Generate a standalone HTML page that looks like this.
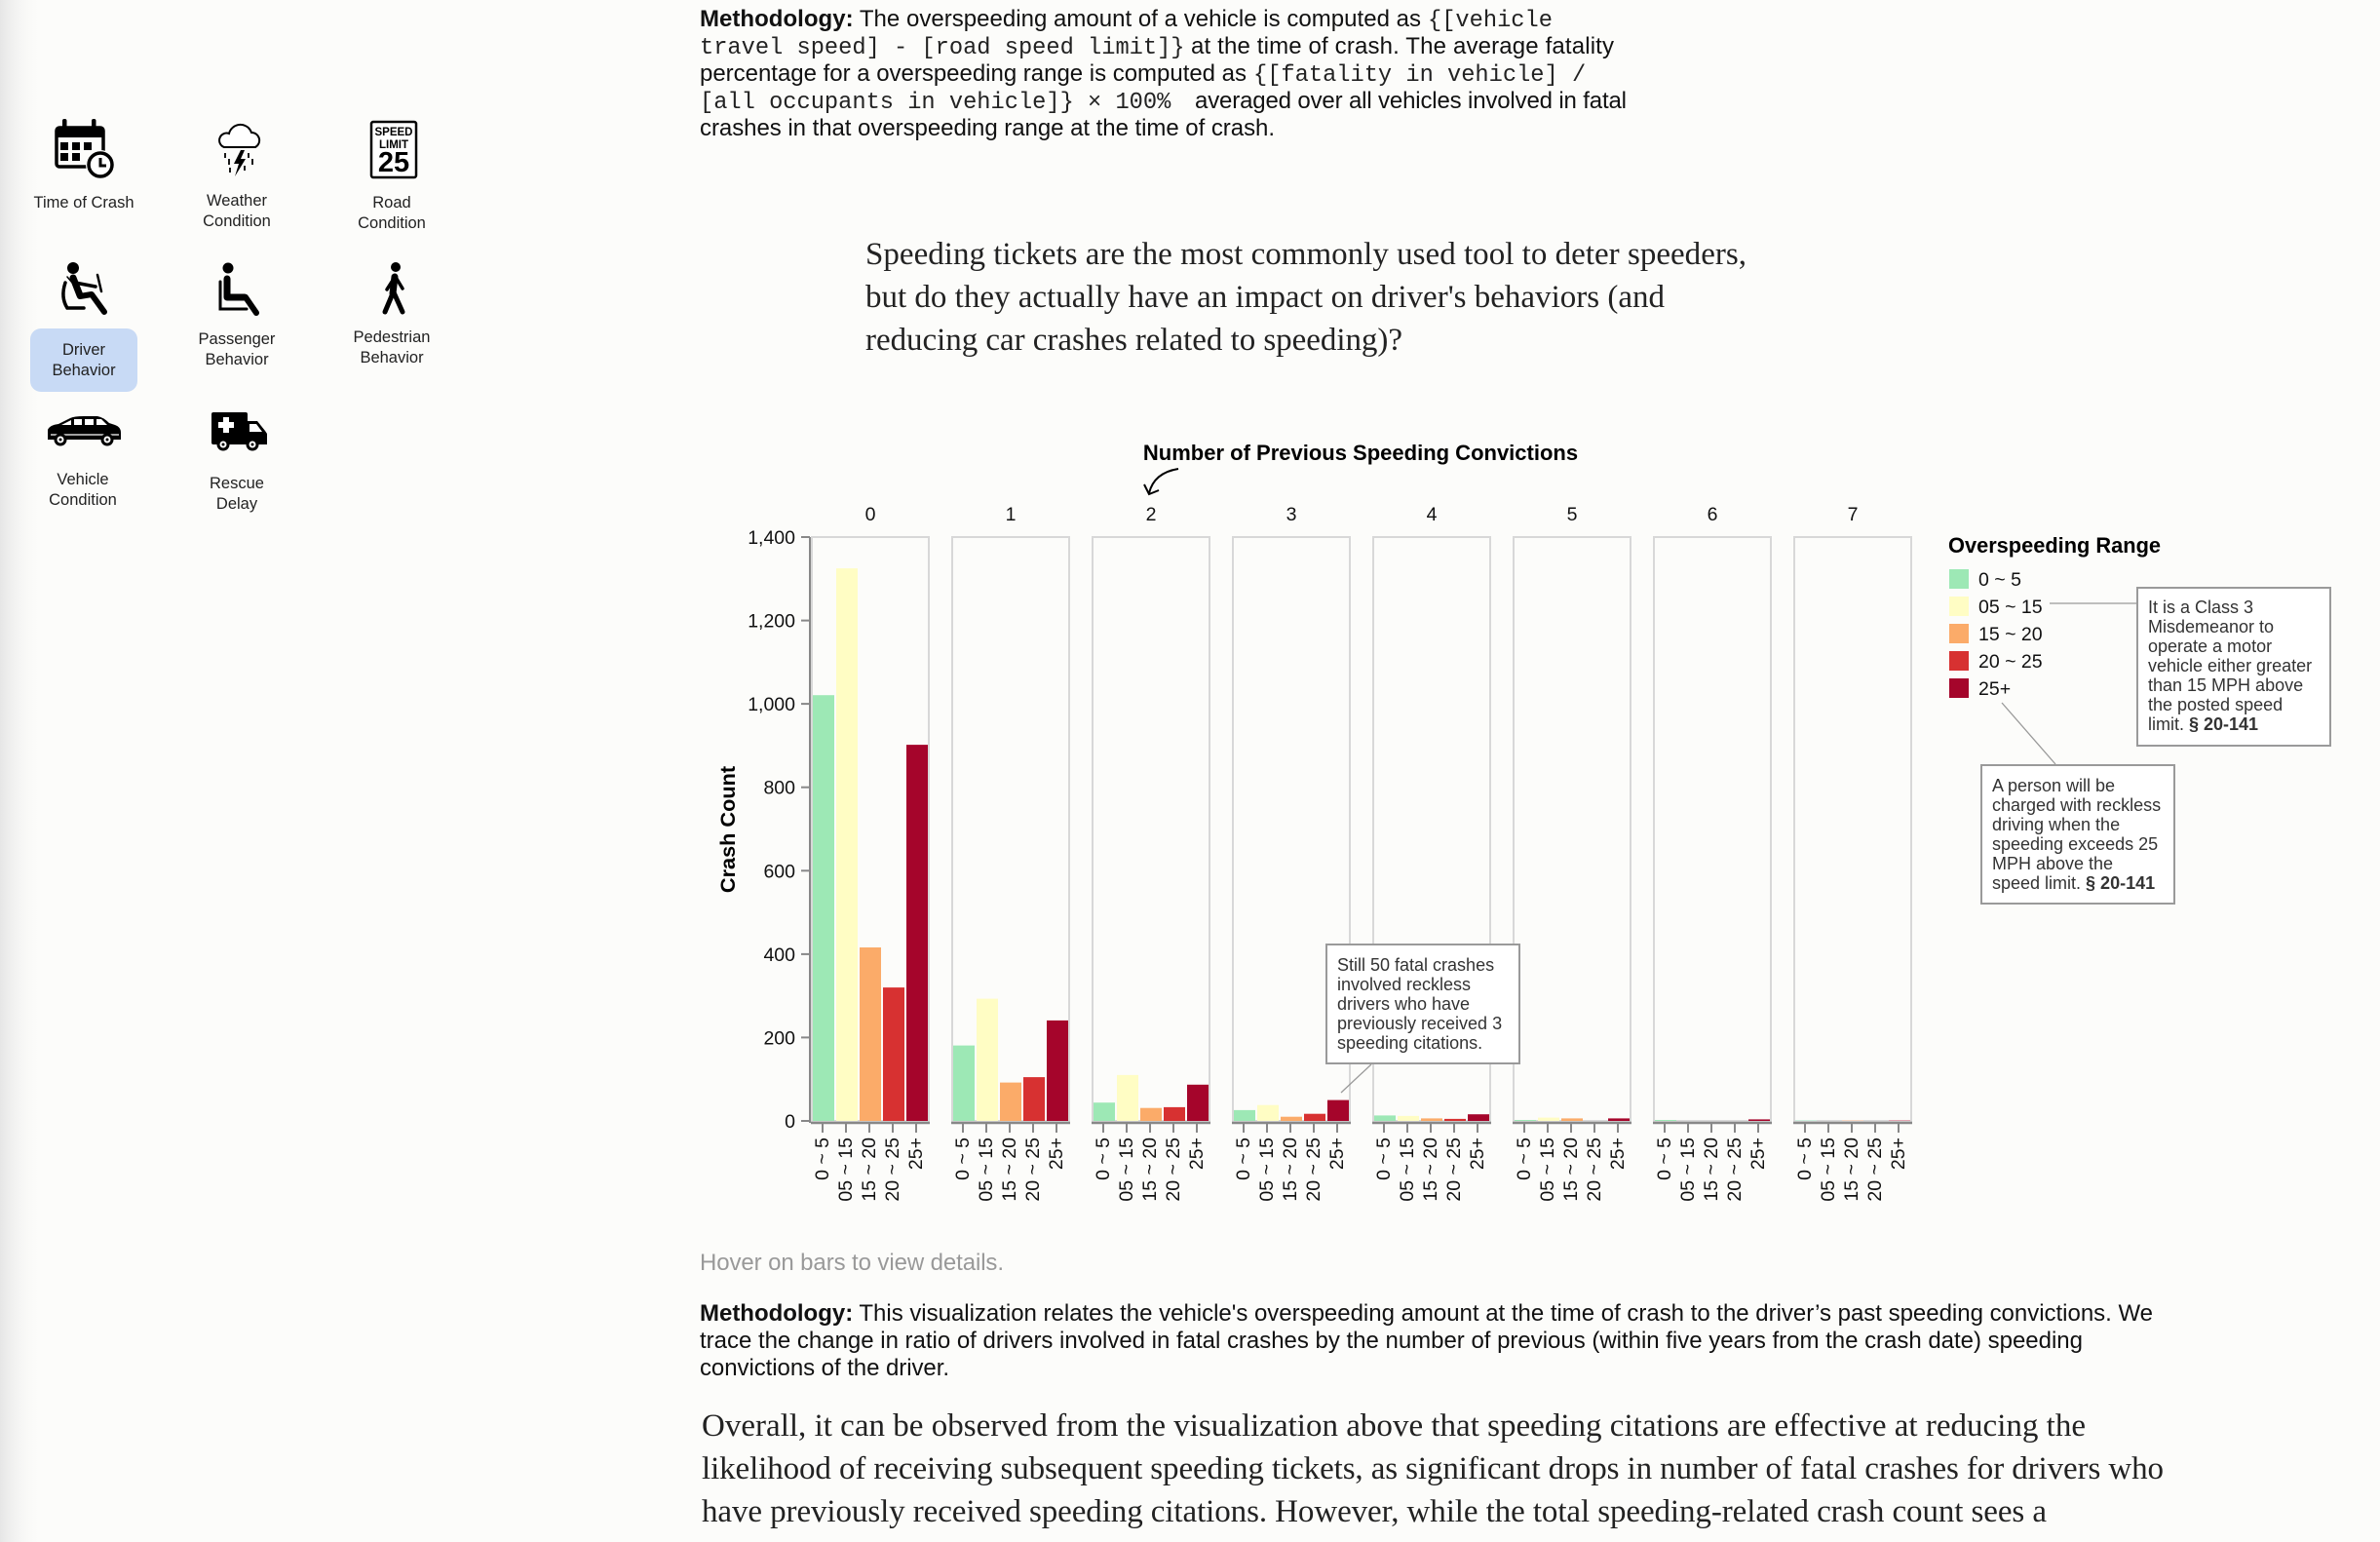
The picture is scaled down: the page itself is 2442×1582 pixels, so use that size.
<!DOCTYPE html>
<html><head><meta charset="utf-8"><style>
html,body{margin:0;padding:0;background:#fcfcfa;}
svg{display:block;}
.s{font-family:"Liberation Sans",Arial,sans-serif;}
.m{font-family:"Liberation Mono","Courier New",monospace;}
.r{font-family:"Liberation Serif","Times New Roman",serif;}
</style></head><body>
<svg width="2442" height="1582" viewBox="0 0 2442 1582" xmlns="http://www.w3.org/2000/svg">
<defs>
<linearGradient id="lg" x1="0" x2="1" y1="0" y2="0">
<stop offset="0" stop-color="#e6e6e6"/><stop offset="1" stop-color="#fcfcfa" stop-opacity="0"/>
</linearGradient>
</defs>
<rect x="0" y="0" width="2442" height="1582" fill="#fcfcfa"/>
<rect x="0" y="0" width="45" height="1582" fill="url(#lg)"/>

<!-- ===== Sidebar icons ===== -->
<!-- calendar -->
<g>
<rect x="58" y="131" width="48" height="40" rx="3" fill="none" stroke="#000" stroke-width="3.5"/>
<rect x="58" y="131" width="48" height="10" fill="#000"/>
<rect x="64" y="122" width="4.5" height="13" rx="2" fill="#000"/>
<rect x="94" y="122" width="4.5" height="13" rx="2" fill="#000"/>
<rect x="62" y="146" width="8" height="8" fill="#000"/>
<rect x="74" y="146" width="8" height="8" fill="#000"/>
<rect x="86" y="146" width="8" height="8" fill="#000"/>
<rect x="62" y="157" width="8" height="8" fill="#000"/>
<rect x="74" y="157" width="8" height="8" fill="#000"/>
<circle cx="103" cy="169" r="15" fill="#fcfcfa"/>
<circle cx="103" cy="169" r="12" fill="#fff" stroke="#000" stroke-width="3.5"/>
<path d="M103,162 V170 H109" fill="none" stroke="#000" stroke-width="3"/>
</g>
<!-- weather -->
<g fill="none" stroke="#000" stroke-width="2">
<path d="M230,151 A7,7 0 0 1 235,137 A12,12 0 0 1 258,136 A8,8 0 0 1 262,151 Z" fill="#fff"/>
<path d="M231,157 V162 M235,163 V169 M255,157 V162 M259,163 V169 M251,170 V175 M236,172 V177" stroke-width="1.8"/>
</g>
<polygon points="247,154 240,168 245,168 241,181 252,163 247,163 251,154" fill="#000"/>
<!-- speed limit -->
<rect x="381" y="125" width="46" height="57" rx="2" fill="#fff" stroke="#000" stroke-width="2.5"/>
<text class="s" x="404" y="139" font-size="11.5" font-weight="bold" text-anchor="middle">SPEED</text>
<text class="s" x="404" y="152" font-size="11.5" font-weight="bold" text-anchor="middle">LIMIT</text>
<text class="s" x="404" y="176" font-size="29" font-weight="bold" text-anchor="middle">25</text>

<!-- highlight -->
<rect x="31" y="337" width="110" height="65" rx="11" fill="#c8daf5"/>
<!-- driver -->
<g stroke="#000" stroke-linecap="round" fill="none">
<circle cx="75" cy="275" r="6" fill="#000" stroke="none"/>
<path d="M75,285 L82,303" stroke-width="7"/>
<path d="M77,290 L98,294" stroke-width="3.5"/>
<path d="M100,282 L104,299" stroke-width="2.5"/>
<path d="M82,304 L94,302 L107,320" stroke-width="6" stroke-linejoin="round"/>
<path d="M67,290 Q62,305 69,316 L86,316" stroke-width="3.5"/>
<path d="M69,284 L74,290" stroke-width="1.5"/>
</g>
<!-- passenger -->
<g stroke="#000" stroke-linecap="round" fill="none">
<circle cx="234" cy="275" r="5.5" fill="#000" stroke="none"/>
<path d="M233,286 V305 H251" stroke-width="7" stroke-linejoin="round"/>
<path d="M252,305 L263,321" stroke-width="6"/>
<path d="M226,289 V317 H253" stroke-width="3"/>
</g>
<!-- pedestrian -->
<g stroke="#000" stroke-linecap="round" fill="none">
<circle cx="406" cy="274" r="5" fill="#000" stroke="none"/>
<path d="M405,284 L403,301" stroke-width="7"/>
<path d="M403,301 L395,320" stroke-width="5"/>
<path d="M404,300 L413,320" stroke-width="5"/>
<path d="M404,286 L397,297" stroke-width="3.5"/>
<path d="M407,286 L413,296" stroke-width="3.5"/>
</g>
<!-- car -->
<g>
<path d="M49,451 L49,441 Q51,436 60,435 L72,429 Q76,427 86,427 L100,427 Q106,428 112,434 L118,436 Q124,438 124,444 L124,451 Z" fill="#000"/>
<polygon points="63,436 73,431 73,436" fill="#fff"/>
<rect x="76" y="430" width="8" height="6" fill="#fff"/>
<rect x="87" y="430" width="9" height="6" fill="#fff"/>
<polygon points="99,430 104,430 110,436 99,436" fill="#fff"/>
<path d="M52,446 H122" stroke="#fff" stroke-width="1.2"/>
<circle cx="62" cy="451" r="6.5" fill="#000"/><circle cx="62" cy="451" r="3.5" fill="#fff"/><circle cx="62" cy="451" r="1.5" fill="#000"/>
<circle cx="110" cy="451" r="6.5" fill="#000"/><circle cx="110" cy="451" r="3.5" fill="#fff"/><circle cx="110" cy="451" r="1.5" fill="#000"/>
</g>
<!-- ambulance -->
<g>
<rect x="217" y="423" width="37" height="33" rx="2" fill="#000"/>
<path d="M253,432 L264,432 L272,442 L274,445 L274,456 L253,456 Z" fill="#000"/>
<polygon points="256,435 263,435 269,443 256,443" fill="#fff"/>
<rect x="224" y="433" width="16" height="6" fill="#fff"/>
<rect x="229" y="428" width="6" height="16" fill="#fff"/>
<circle cx="229" cy="456" r="6.5" fill="#000"/><circle cx="229" cy="456" r="3.5" fill="#fff"/><circle cx="229" cy="456" r="1.5" fill="#000"/>
<circle cx="259" cy="456" r="6.5" fill="#000"/><circle cx="259" cy="456" r="3.5" fill="#fff"/><circle cx="259" cy="456" r="1.5" fill="#000"/>
</g>

<g class="s" font-size="16.5" fill="#222" text-anchor="middle">
<text x="86" y="213">Time of Crash</text>
<text x="243" y="211">Weather</text><text x="243" y="232">Condition</text>
<text x="402" y="213">Road</text><text x="402" y="234">Condition</text>
<text x="86" y="364">Driver</text><text x="86" y="385">Behavior</text>
<text x="243" y="353">Passenger</text><text x="243" y="374">Behavior</text>
<text x="402" y="351">Pedestrian</text><text x="402" y="372">Behavior</text>
<text x="85" y="497">Vehicle</text><text x="85" y="518">Condition</text>
<text x="243" y="501">Rescue</text><text x="243" y="522">Delay</text>
</g>

<!-- ===== Top methodology ===== -->
<g fill="#111" font-size="24">
<text class="s" x="718" y="27" textLength="740" lengthAdjust="spacing"><tspan font-weight="bold">Methodology:</tspan> The overspeeding amount of a vehicle is computed as</text>
<text class="m" x="1465" y="27" font-size="23.7" fill="#222">{[vehicle</text>
<text class="m" x="718" y="55" font-size="23.7" fill="#222">travel speed] - [road speed limit]}</text>
<text class="s" x="1222" y="55" textLength="434" lengthAdjust="spacing">at the time of crash. The average fatality</text>
<text class="s" x="718" y="83" textLength="561" lengthAdjust="spacing">percentage for a overspeeding range is computed as</text>
<text class="m" x="1286" y="83" font-size="23.7" fill="#222">{[fatality in vehicle] /</text>
<text class="m" x="718" y="111" font-size="23.7" fill="#222">[all occupants in vehicle]} × 100%</text>
<text class="s" x="1226" y="111" textLength="443" lengthAdjust="spacing">averaged over all vehicles involved in fatal</text>
<text class="s" x="718" y="139" textLength="590" lengthAdjust="spacing">crashes in that overspeeding range at the time of crash.</text>
</g>

<!-- ===== Question paragraph ===== -->
<g class="r" font-size="33" fill="#222">
<text x="888" y="271" textLength="904" lengthAdjust="spacing">Speeding tickets are the most commonly used tool to deter speeders,</text>
<text x="888" y="315" textLength="820" lengthAdjust="spacing">but do they actually have an impact on driver's behaviors (and</text>
<text x="888" y="359" textLength="551" lengthAdjust="spacing">reducing car crashes related to speeding)?</text>
</g>

<!-- ===== Chart ===== -->
<text class="s" x="1396" y="472" font-size="22" font-weight="bold" text-anchor="middle" fill="#000">Number of Previous Speeding Convictions</text>
<path d="M1209,481 Q1184,485 1179,506" fill="none" stroke="#000" stroke-width="2"/>
<path d="M1174,497 L1179,507 L1189,503" fill="none" stroke="#000" stroke-width="2"/>

<g class="s" font-size="19.5" fill="#111" text-anchor="middle">
<text x="893" y="534">0</text><text x="1037" y="534">1</text><text x="1181" y="534">2</text><text x="1325" y="534">3</text>
<text x="1469" y="534">4</text><text x="1613" y="534">5</text><text x="1757" y="534">6</text><text x="1901" y="534">7</text>
</g>

<!-- panels -->
<g fill="none" stroke="#d8d8d8" stroke-width="2">
<rect x="833" y="551" width="120" height="599"/>
<rect x="977" y="551" width="120" height="599"/>
<rect x="1121" y="551" width="120" height="599"/>
<rect x="1265" y="551" width="120" height="599"/>
<rect x="1409" y="551" width="120" height="599"/>
<rect x="1553" y="551" width="120" height="599"/>
<rect x="1697" y="551" width="120" height="599"/>
<rect x="1841" y="551" width="120" height="599"/>
</g>

<!-- bars -->
<g>
<!-- P0 -->
<rect x="834" y="713.2" width="22" height="436.8" fill="#9de8b5"/>
<rect x="858" y="583.1" width="22" height="566.9" fill="#fffdc4"/>
<rect x="882" y="972.0" width="22" height="178.0" fill="#fbab69"/>
<rect x="906" y="1013.1" width="22" height="136.9" fill="#d73131"/>
<rect x="930" y="764.1" width="22" height="385.9" fill="#a5052b"/>
<!-- P1 -->
<rect x="978" y="1072.6" width="22" height="77.4" fill="#9de8b5"/>
<rect x="1002" y="1024.6" width="22" height="125.4" fill="#fffdc4"/>
<rect x="1026" y="1110.6" width="22" height="39.4" fill="#fbab69"/>
<rect x="1050" y="1105.1" width="22" height="44.9" fill="#d73131"/>
<rect x="1074" y="1046.9" width="22" height="103.1" fill="#a5052b"/>
<!-- P2 -->
<rect x="1122" y="1131.2" width="22" height="18.8" fill="#9de8b5"/>
<rect x="1146" y="1102.9" width="22" height="47.1" fill="#fffdc4"/>
<rect x="1170" y="1136.7" width="22" height="13.3" fill="#fbab69"/>
<rect x="1194" y="1135.9" width="22" height="14.1" fill="#d73131"/>
<rect x="1218" y="1112.8" width="22" height="37.2" fill="#a5052b"/>
<!-- P3 -->
<rect x="1266" y="1138.9" width="22" height="11.1" fill="#9de8b5"/>
<rect x="1290" y="1133.7" width="22" height="16.3" fill="#fffdc4"/>
<rect x="1314" y="1145.7" width="22" height="4.3" fill="#fbab69"/>
<rect x="1338" y="1142.7" width="22" height="7.3" fill="#d73131"/>
<rect x="1362" y="1128.6" width="22" height="21.4" fill="#a5052b"/>
<!-- P4 -->
<rect x="1410" y="1144.4" width="22" height="5.6" fill="#9de8b5"/>
<rect x="1434" y="1144.9" width="22" height="5.1" fill="#fffdc4"/>
<rect x="1458" y="1147.4" width="22" height="2.6" fill="#fbab69"/>
<rect x="1482" y="1147.9" width="22" height="2.1" fill="#d73131"/>
<rect x="1506" y="1143.2" width="22" height="6.8" fill="#a5052b"/>
<!-- P5 -->
<rect x="1554" y="1149" width="22" height="1" fill="#9de8b5"/>
<rect x="1578" y="1146.6" width="22" height="3.4" fill="#fffdc4"/>
<rect x="1602" y="1147.4" width="22" height="2.6" fill="#fbab69"/>
<rect x="1650" y="1147.4" width="22" height="2.6" fill="#a5052b"/>
<!-- P6 -->
<rect x="1698" y="1149" width="22" height="1" fill="#9de8b5"/>
<rect x="1794" y="1148.4" width="22" height="1.6" fill="#a5052b"/>
<!-- P7 -->
<rect x="1842" y="1149" width="22" height="1" fill="#cdeedd"/>
<rect x="1890" y="1149" width="22" height="1" fill="#f5d6c4"/>
<rect x="1938" y="1149" width="22" height="1" fill="#e2a5b2"/>
</g>

<!-- y axis -->
<g stroke="#888" stroke-width="2">
<line x1="831" y1="551" x2="831" y2="1152"/>
<line x1="822" y1="1150" x2="831" y2="1150"/>
<line x1="822" y1="1064.4" x2="831" y2="1064.4"/>
<line x1="822" y1="978.9" x2="831" y2="978.9"/>
<line x1="822" y1="893.3" x2="831" y2="893.3"/>
<line x1="822" y1="807.7" x2="831" y2="807.7"/>
<line x1="822" y1="722.1" x2="831" y2="722.1"/>
<line x1="822" y1="636.6" x2="831" y2="636.6"/>
<line x1="822" y1="551" x2="831" y2="551"/>
</g>
<g class="s" font-size="19.5" fill="#111" text-anchor="end">
<text x="816" y="1157">0</text>
<text x="816" y="1071.4">200</text>
<text x="816" y="985.9">400</text>
<text x="816" y="900.3">600</text>
<text x="816" y="814.7">800</text>
<text x="816" y="729.1">1,000</text>
<text x="816" y="643.6">1,200</text>
<text x="816" y="558">1,400</text>
</g>
<text class="s" transform="translate(754,851) rotate(-90)" font-size="21.7" font-weight="bold" text-anchor="middle" fill="#000">Crash Count</text>

<!-- x axes -->
<g id="xaxes" stroke="#888">
<g stroke-width="2.5">
<line x1="832" y1="1152" x2="954" y2="1152"/>
<line x1="976" y1="1152" x2="1098" y2="1152"/>
<line x1="1120" y1="1152" x2="1242" y2="1152"/>
<line x1="1264" y1="1152" x2="1386" y2="1152"/>
<line x1="1408" y1="1152" x2="1530" y2="1152"/>
<line x1="1552" y1="1152" x2="1674" y2="1152"/>
<line x1="1696" y1="1152" x2="1818" y2="1152"/>
<line x1="1840" y1="1152" x2="1962" y2="1152"/>
</g>
<g stroke-width="2">
<path d="M844,1153v9 M868,1153v9 M892,1153v9 M916,1153v9 M940,1153v9
M988,1153v9 M1012,1153v9 M1036,1153v9 M1060,1153v9 M1084,1153v9
M1132,1153v9 M1156,1153v9 M1180,1153v9 M1204,1153v9 M1228,1153v9
M1276,1153v9 M1300,1153v9 M1324,1153v9 M1348,1153v9 M1372,1153v9
M1420,1153v9 M1444,1153v9 M1468,1153v9 M1492,1153v9 M1516,1153v9
M1564,1153v9 M1588,1153v9 M1612,1153v9 M1636,1153v9 M1660,1153v9
M1708,1153v9 M1732,1153v9 M1756,1153v9 M1780,1153v9 M1804,1153v9
M1852,1153v9 M1876,1153v9 M1900,1153v9 M1924,1153v9 M1948,1153v9"/>
</g>
</g>
<g class="s" font-size="19.5" fill="#111" text-anchor="end" dominant-baseline="central">
<text transform="translate(844,1167) rotate(-90)">0 ~ 5</text><text transform="translate(868,1167) rotate(-90)">05 ~ 15</text><text transform="translate(892,1167) rotate(-90)">15 ~ 20</text><text transform="translate(916,1167) rotate(-90)">20 ~ 25</text><text transform="translate(940,1167) rotate(-90)">25+</text>
<text transform="translate(988,1167) rotate(-90)">0 ~ 5</text><text transform="translate(1012,1167) rotate(-90)">05 ~ 15</text><text transform="translate(1036,1167) rotate(-90)">15 ~ 20</text><text transform="translate(1060,1167) rotate(-90)">20 ~ 25</text><text transform="translate(1084,1167) rotate(-90)">25+</text>
<text transform="translate(1132,1167) rotate(-90)">0 ~ 5</text><text transform="translate(1156,1167) rotate(-90)">05 ~ 15</text><text transform="translate(1180,1167) rotate(-90)">15 ~ 20</text><text transform="translate(1204,1167) rotate(-90)">20 ~ 25</text><text transform="translate(1228,1167) rotate(-90)">25+</text>
<text transform="translate(1276,1167) rotate(-90)">0 ~ 5</text><text transform="translate(1300,1167) rotate(-90)">05 ~ 15</text><text transform="translate(1324,1167) rotate(-90)">15 ~ 20</text><text transform="translate(1348,1167) rotate(-90)">20 ~ 25</text><text transform="translate(1372,1167) rotate(-90)">25+</text>
<text transform="translate(1420,1167) rotate(-90)">0 ~ 5</text><text transform="translate(1444,1167) rotate(-90)">05 ~ 15</text><text transform="translate(1468,1167) rotate(-90)">15 ~ 20</text><text transform="translate(1492,1167) rotate(-90)">20 ~ 25</text><text transform="translate(1516,1167) rotate(-90)">25+</text>
<text transform="translate(1564,1167) rotate(-90)">0 ~ 5</text><text transform="translate(1588,1167) rotate(-90)">05 ~ 15</text><text transform="translate(1612,1167) rotate(-90)">15 ~ 20</text><text transform="translate(1636,1167) rotate(-90)">20 ~ 25</text><text transform="translate(1660,1167) rotate(-90)">25+</text>
<text transform="translate(1708,1167) rotate(-90)">0 ~ 5</text><text transform="translate(1732,1167) rotate(-90)">05 ~ 15</text><text transform="translate(1756,1167) rotate(-90)">15 ~ 20</text><text transform="translate(1780,1167) rotate(-90)">20 ~ 25</text><text transform="translate(1804,1167) rotate(-90)">25+</text>
<text transform="translate(1852,1167) rotate(-90)">0 ~ 5</text><text transform="translate(1876,1167) rotate(-90)">05 ~ 15</text><text transform="translate(1900,1167) rotate(-90)">15 ~ 20</text><text transform="translate(1924,1167) rotate(-90)">20 ~ 25</text><text transform="translate(1948,1167) rotate(-90)">25+</text>
</g>

<!-- legend -->
<text class="s" x="1999" y="567" font-size="21.8" font-weight="bold" fill="#000">Overspeeding Range</text>
<rect x="2000" y="584" width="20" height="20" fill="#9de8b5"/>
<rect x="2000" y="612" width="20" height="20" fill="#fffdc4"/>
<rect x="2000" y="640" width="20" height="20" fill="#fbab69"/>
<rect x="2000" y="668" width="20" height="20" fill="#d73131"/>
<rect x="2000" y="696" width="20" height="20" fill="#a5052b"/>
<g class="s" font-size="19.5" fill="#111">
<text x="2030" y="601">0 ~ 5</text>
<text x="2030" y="629">05 ~ 15</text>
<text x="2030" y="657">15 ~ 20</text>
<text x="2030" y="685">20 ~ 25</text>
<text x="2030" y="713">25+</text>
</g>

<!-- annotations -->
<g stroke="#999" stroke-width="1.3">
<line x1="2103" y1="619" x2="2192" y2="619"/>
<line x1="2054" y1="721" x2="2109" y2="784"/>
<line x1="1407" y1="1092" x2="1376" y2="1121"/>
</g>
<g fill="#fff" stroke="#9a9a9a" stroke-width="2">
<rect x="2193" y="603" width="198" height="162"/>
<rect x="2033" y="785" width="198" height="142"/>
<rect x="1361" y="969" width="198" height="122"/>
</g>
<g class="s" font-size="18" fill="#333">
<text x="2204" y="629">It is a Class 3</text>
<text x="2204" y="649">Misdemeanor to</text>
<text x="2204" y="669">operate a motor</text>
<text x="2204" y="689">vehicle either greater</text>
<text x="2204" y="709">than 15 MPH above</text>
<text x="2204" y="729">the posted speed</text>
<text x="2204" y="749">limit. <tspan font-weight="bold">§ 20-141</tspan></text>

<text x="2044" y="812">A person will be</text>
<text x="2044" y="832">charged with reckless</text>
<text x="2044" y="852">driving when the</text>
<text x="2044" y="872">speeding exceeds 25</text>
<text x="2044" y="892">MPH above the</text>
<text x="2044" y="912">speed limit. <tspan font-weight="bold">§ 20-141</tspan></text>

<text x="1372" y="996">Still 50 fatal crashes</text>
<text x="1372" y="1016">involved reckless</text>
<text x="1372" y="1036">drivers who have</text>
<text x="1372" y="1056">previously received 3</text>
<text x="1372" y="1076">speeding citations.</text>
</g>

<!-- ===== Bottom text ===== -->
<text class="s" x="718" y="1303" font-size="24" fill="#999" textLength="312" lengthAdjust="spacing">Hover on bars to view details.</text>
<g class="s" font-size="24" fill="#111">
<text x="718" y="1355" textLength="1491" lengthAdjust="spacing"><tspan font-weight="bold">Methodology:</tspan> This visualization relates the vehicle's overspeeding amount at the time of crash to the driver’s past speeding convictions. We</text>
<text x="718" y="1383" textLength="1419" lengthAdjust="spacing">trace the change in ratio of drivers involved in fatal crashes by the number of previous (within five years from the crash date) speeding</text>
<text x="718" y="1411" textLength="256" lengthAdjust="spacing">convictions of the driver.</text>
</g>
<g class="r" font-size="33" fill="#222">
<text x="720" y="1473" textLength="1420" lengthAdjust="spacing">Overall, it can be observed from the visualization above that speeding citations are effective at reducing the</text>
<text x="720" y="1517" textLength="1500" lengthAdjust="spacing">likelihood of receiving subsequent speeding tickets, as significant drops in number of fatal crashes for drivers who</text>
<text x="720" y="1561" textLength="1380" lengthAdjust="spacing">have previously received speeding citations. However, while the total speeding-related crash count sees a</text>
</g>
</svg>
</body></html>
